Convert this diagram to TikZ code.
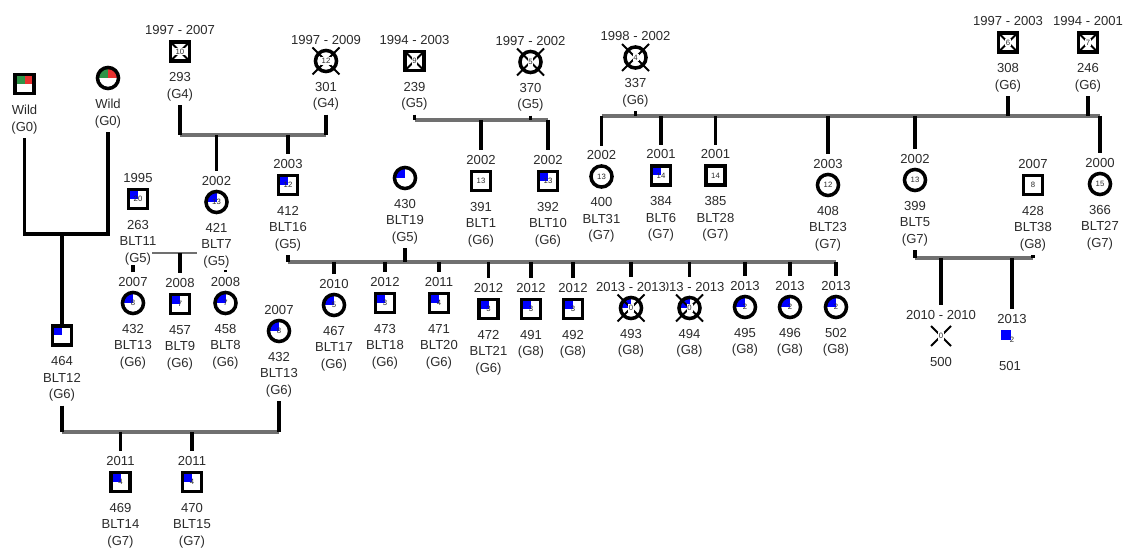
\documentclass[tikz,border=0pt]{standalone}
\usepackage{fontspec}
\setmainfont{Liberation Sans}
\usetikzlibrary{calc}
\definecolor{pedBlue}{HTML}{0000FF}
\definecolor{pedGreen}{HTML}{2E9447}
\definecolor{pedRed}{HTML}{E8312F}
\definecolor{pedGray}{HTML}{707070}
\definecolor{pedText}{HTML}{2B2B2B}
\tikzset{
  sym/.style={draw=black, line width=2.5pt, fill=white, inner sep=0pt, outer sep=0pt},
  male/.style={sym, rectangle, minimum size=13.6pt},
  female/.style={sym, circle, minimum size=15pt},
  unk/.style={inner sep=0pt, minimum size=14pt},
  mini/.style={rectangle, fill=pedBlue, inner sep=0pt, minimum size=6.5pt},
  aff/.style={path picture={\fill[pedBlue] (path picture bounding box.center) rectangle (path picture bounding box.north west);}},
  wild/.style={path picture={
    \fill[pedGreen] (path picture bounding box.center) rectangle (path picture bounding box.north west);
    \fill[pedRed] (path picture bounding box.center) rectangle (path picture bounding box.north east);}},
  nr/.style={font=\fontsize{5.5}{6}\selectfont, text=pedText, inner sep=0.6pt},
  txt/.style={font=\fontsize{9.3}{11.7}\selectfont, text=pedText, inner sep=0pt},
  yr/.style={txt, fill=white, outer sep=3.5pt},
  lbl/.style={txt, align=center, anchor=north, outer sep=3pt},
  vline/.style={draw=black, line width=2.3pt},
  sib/.style={draw=pedGray, line width=2.3pt},
  cross/.style={draw=black, line width=1.4pt},
}
% name, shape, x, y, number, years, label
\newcommand{\ind}[7]{%
  \node[#2] (#1) at (#3,#4) {};
  \node[nr] (#1-n) at (#1) {#5};
  \node[yr] (#1-y) at ($(#1)+(0,-21)$) {#6};
  \node[lbl] (#1-l) at ($(#1)+(0,17)$) {#7};
}
% deceased: same, #8 = half width of the cross
\newcommand{\indx}[8]{%
  \node[#2] (#1) at (#3,#4) {};
  \draw[cross] ($(#1)+(-#8,-#8)$) -- ($(#1)+(#8,#8)$) ($(#1)+(-#8,#8)$) -- ($(#1)+(#8,-#8)$);
  \node[nr, fill=white] (#1-n) at (#1) {#5};
  \node[yr] (#1-y) at ($(#1)+(0,-21)$) {#6};
  \node[lbl] (#1-l) at ($(#1)+(0,17)$) {#7};
}

\begin{document}
\begin{tikzpicture}[x=0.025cm, y=-0.025cm]
\useasboundingbox (0,0) rectangle (1126,550);

% founders
\ind{wm}{male, wild}{24.5}{84}{}{}{Wild\\(G0)}
\ind{wf}{female, wild}{108}{78}{}{}{Wild\\(G0)}
\indx{p293}{male}{180}{51.5}{10}{1997 - 2007}{293\\(G4)}{10}
\indx{p301}{female}{326}{61}{12}{1997 - 2009}{301\\(G4)}{13.5}
\indx{p239}{male}{414.5}{61}{9}{1994 - 2003}{239\\(G5)}{10}
\indx{p370}{female}{530.5}{62}{5}{1997 - 2002}{370\\(G5)}{13.5}
\indx{p337}{female}{635.5}{57.5}{4}{1998 - 2002}{337\\(G6)}{13.5}
\indx{p308}{male}{1008}{42.5}{6}{1997 - 2003}{308\\(G6)}{10}
\indx{p246}{male}{1088}{42.5}{7}{1994 - 2001}{246\\(G6)}{10}

% second row
\ind{p263}{male, aff}{138}{199}{20}{1995}{263\\BLT11\\(G5)}
\ind{p421}{female, aff}{216.5}{202}{13}{2002}{421\\BLT7\\(G5)}
\ind{p412}{male, aff}{288}{185}{12}{2003}{412\\BLT16\\(G5)}
\ind{p430}{female, aff}{405}{178}{}{}{430\\BLT19\\(G5)}
\ind{p391}{male}{481}{181}{13}{2002}{391\\BLT1\\(G6)}
\ind{p392}{male, aff}{548}{181}{13}{2002}{392\\BLT10\\(G6)}
\ind{p400}{female}{601.5}{176.5}{13}{2002}{400\\BLT31\\(G7)}
\ind{p384}{male, aff}{661}{175.5}{14}{2001}{384\\BLT6\\(G7)}
\ind{p385}{male}{715.5}{175.5}{14}{2001}{385\\BLT28\\(G7)}
\ind{p408}{female}{828}{185}{12}{2003}{408\\BLT23\\(G7)}
\ind{p399}{female}{915}{180}{13}{2002}{399\\BLT5\\(G7)}
\ind{p428}{male}{1033}{185}{8}{2007}{428\\BLT38\\(G8)}
\ind{p366}{female}{1100}{184}{15}{2000}{366\\BLT27\\(G7)}

% third row
\ind{p464}{male, aff}{62}{335.5}{}{}{464\\BLT12\\(G6)}
\ind{p432a}{female, aff}{133}{303}{8}{2007}{432\\BLT13\\(G6)}
\ind{p457}{male, aff}{180}{304}{7}{2008}{457\\BLT9\\(G6)}
\ind{p458}{female, aff}{225.5}{303}{7}{2008}{458\\BLT8\\(G6)}
\ind{p432b}{female, aff}{279}{331}{8}{2007}{432\\BLT13\\(G6)}
\ind{p467}{female, aff}{334}{305}{5}{2010}{467\\BLT17\\(G6)}
\ind{p473}{male, aff}{385}{303}{3}{2012}{473\\BLT18\\(G6)}
\ind{p471}{male, aff}{439}{303}{4}{2011}{471\\BLT20\\(G6)}
\ind{p472}{male, aff}{488.5}{309}{3}{2012}{472\\BLT21\\(G6)}
\ind{p491}{male, aff}{531}{309}{3}{2012}{491\\(G8)}
\ind{p492}{male, aff}{573}{309}{3}{2012}{492\\(G8)}
\indx{p494}{female, aff}{689.5}{308}{0}{2013 - 2013}{494\\(G8)}{13.5}
\indx{p493}{female, aff}{631}{308}{0}{2013 - 2013}{493\\(G8)}{13.5}
\ind{p495}{female, aff}{745}{307}{2}{2013}{495\\(G8)}
\ind{p496}{female, aff}{790}{307}{2}{2013}{496\\(G8)}
\ind{p502}{female, aff}{836}{307}{2}{2013}{502\\(G8)}
\indx{p500}{unk}{941}{336}{0}{2010 - 2010}{500}{10}
\node[mini] (p501) at (1006,335) {};
\node[nr] (p501-n) at (1012,340) {2};
\node[yr] (p501-y) at (1012,319) {2013};
\node[lbl] (p501-l) at (1010,357) {501};

% bottom row
\ind{p469}{male, aff}{120.5}{482}{4}{2011}{469\\BLT14\\(G7)}
\ind{p470}{male, aff}{192}{482}{4}{2011}{470\\BLT15\\(G7)}

% Wild x Wild
\coordinate (jA) at (62,234);
\draw[vline] (wm-l.south) |- (jA) -| (wf-l.south);
\draw[vline] (jA) -- (p464.north);

% 293 x 301
\coordinate (jB) at (0,135);
\draw[sib] (p293-l.south |- jB) -- (p301-l.south |- jB);
\foreach \k in {p293,p301} \draw[vline] (\k-l.south) -- (\k-l.south |- jB);
\foreach \k in {p421,p412} \draw[vline] (\k-y.north |- jB) -- (\k-y.north);

% 239 x 370
\coordinate (jC) at (0,120);
\draw[sib] (p239-l.south |- jC) -- (p392-y.north |- jC);
\foreach \k in {p239,p370} \draw[vline] (\k-l.south) -- (\k-l.south |- jC);
\foreach \k in {p391,p392} \draw[vline] (\k-y.north |- jC) -- (\k-y.north);

% 263 x 421
\coordinate (jD) at (152,253);
\draw[sib, line width=1.5pt] (jD) -- (p421-l.west |- jD);
\draw[vline] (p457-y.north |- jD) -- (p457-y.north);
\draw[vline] (p432a-y.north) -- ++(0,-7);
\draw[vline] (p458-y.north) -- ++(0,-2);

% 412 x 430
\coordinate (jE) at (0,262);
\draw[sib] (p412-l.south |- jE) -- (p502-y.north |- jE);
\foreach \k in {p412,p430} \draw[vline] (\k-l.south) -- (\k-l.south |- jE);
\foreach \k in {p467,p473,p471,p472,p491,p492,p493,p494,p495,p496,p502}
  \draw[vline] (\k-y.north |- jE) -- (\k-y.north);

% 464 x 432
\coordinate (jF) at (0,432);
\draw[sib] (p464-l.south |- jF) -- (p432b-l.south |- jF);
\foreach \k in {p464,p432b} \draw[vline] (\k-l.south) -- (\k-l.south |- jF);
\foreach \k in {p469,p470} \draw[vline] (\k-y.north |- jF) -- (\k-y.north);

% 337, 308, 246
\coordinate (jG) at (0,116);
\draw[sib] (p400-y.north |- jG) -- (p366-y.north |- jG);
\foreach \k in {p337,p308,p246} \draw[vline] (\k-l.south) -- (\k-l.south |- jG);
\foreach \k in {p400,p384,p385,p408,p399,p366} \draw[vline] (\k-y.north |- jG) -- (\k-y.north);

% 399 x 428
\coordinate (jH) at (0,258);
\draw[sib] (p399-l.south |- jH) -- (p428-l.south |- jH);
\foreach \k in {p399,p428} \draw[vline] (\k-l.south) -- (\k-l.south |- jH);
\foreach \k in {p500,p501} \draw[vline] (\k-y.north |- jH) -- (\k-y.north);
\end{tikzpicture}
\end{document}
